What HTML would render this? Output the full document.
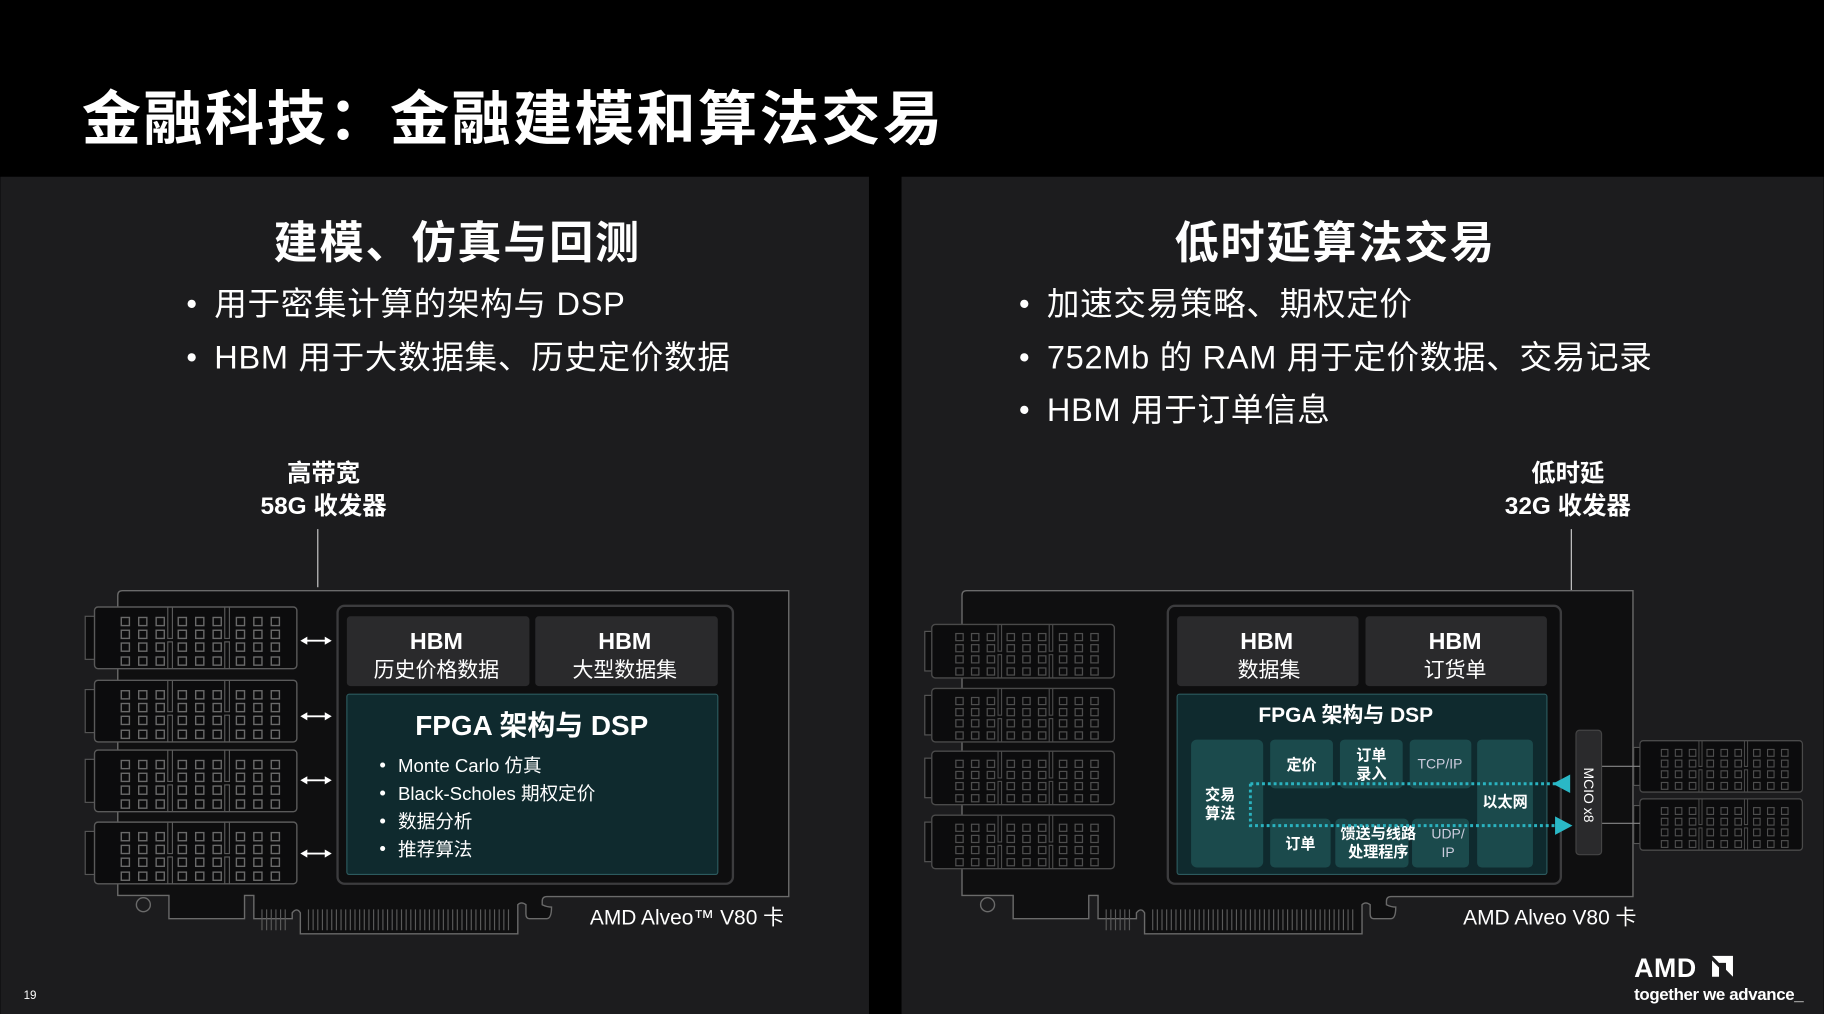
<!DOCTYPE html>
<html><head><meta charset="utf-8"><style>
html,body{margin:0;padding:0;background:#000;}
svg{display:block;}
text{font-family:"Liberation Sans","Noto Sans CJK SC",sans-serif;fill:#fff;}
</style></head><body>
<svg width="1824" height="1014" viewBox="0 0 1568 872" xmlns="http://www.w3.org/2000/svg">
<defs>
<g id="sq"><rect x="0" y="0" width="7" height="7" fill="none" stroke="#6a6a6a" stroke-width="1.2"/></g>
<g id="grp">
<use href="#sq" x="0" y="0"/><use href="#sq" x="15" y="0"/><use href="#sq" x="30" y="0"/>
<use href="#sq" x="0" y="11"/><use href="#sq" x="15" y="11"/><use href="#sq" x="30" y="11"/>
<use href="#sq" x="0" y="22"/><use href="#sq" x="15" y="22"/><use href="#sq" x="30" y="22"/>
<use href="#sq" x="0" y="34"/><use href="#sq" x="15" y="34"/><use href="#sq" x="30" y="34"/>
</g>
<g id="conn">
<rect x="-8" y="8" width="9" height="37" fill="#0c0c0d" stroke="#555" stroke-width="1"/>
<rect x="0" y="0" width="174" height="53" rx="3" fill="#0c0c0d" stroke="#5a5a5a" stroke-width="1.2"/>
<use href="#grp" x="23" y="9"/><use href="#grp" x="72" y="9"/><use href="#grp" x="122" y="9"/>
<path d="M63 0 V27 H67 V0 M63 53 V30 H67 V53 M112 0 V27 H116 V0 M112 53 V30 H116 V53" fill="none" stroke="#5a5a5a" stroke-width="1"/>
</g>
<g id="connS">
<rect x="-6" y="6" width="7" height="34" fill="#0c0c0d" stroke="#555" stroke-width="1"/>
<rect x="0" y="0" width="157" height="46" rx="3" fill="#0c0c0d" stroke="#4a4a4a" stroke-width="1.2"/>
<g transform="scale(0.9 0.87)"><use href="#grp" x="23" y="9" opacity="0.7"/><use href="#grp" x="72" y="9" opacity="0.7"/><use href="#grp" x="122" y="9" opacity="0.7"/></g>
<path d="M57 0 V23 H60 V0 M57 46 V26 H60 V46 M101 0 V23 H104 V0 M101 46 V26 H104 V46" fill="none" stroke="#4a4a4a" stroke-width="1"/>
</g>
<g id="dbl"><path d="M3 0 H24" stroke="#fff" stroke-width="1.6"/><path d="M0 0 L6 -3.5 V3.5 Z M27 0 L21 -3.5 V3.5 Z" fill="#fff"/></g>
<g id="fing" stroke="#5a5a5a" stroke-width="1">
<path d="M225 782 V800 M229 782 V800 M233 782 V800 M237 782 V800 M241 782 V800 M245 782 V800"/>
<path d="M265 782 V800 M269 782 V800 M273 782 V800 M277 782 V800 M281 782 V800 M285 782 V800 M289 782 V800 M293 782 V800 M297 782 V800 M301 782 V800 M305 782 V800 M309 782 V800 M313 782 V800 M317 782 V800 M321 782 V800 M325 782 V800 M329 782 V800 M333 782 V800 M337 782 V800 M341 782 V800 M345 782 V800 M349 782 V800 M353 782 V800 M357 782 V800 M361 782 V800 M365 782 V800 M369 782 V800 M373 782 V800 M377 782 V800 M381 782 V800 M385 782 V800 M389 782 V800 M393 782 V800 M397 782 V800 M401 782 V800 M405 782 V800 M409 782 V800 M413 782 V800 M417 782 V800 M421 782 V800 M425 782 V800 M429 782 V800 M433 782 V800 M437 782 V800"/>
</g>
</defs>
<rect width="1568" height="872" fill="#000"/>
<rect x="0" y="152" width="747" height="720" fill="#1c1c1e"/>
<rect x="775" y="152" width="793" height="720" fill="#1c1c1e"/>
<text x="70" y="120" font-size="51" font-weight="bold" letter-spacing="2">金融科技：金融建模和算法交易</text>

<!-- LEFT -->
<text x="393" y="222" font-size="38" font-weight="bold" text-anchor="middle" letter-spacing="1.5">建模、仿真与回测</text>
<g font-size="28" letter-spacing="0.6">
<text x="160" y="270" font-size="26">•</text><text x="184" y="271">用于密集计算的架构与 DSP</text>
<text x="160" y="316" font-size="26">•</text><text x="184" y="317">HBM 用于大数据集、历史定价数据</text>
</g>
<text x="278" y="414" font-size="21" font-weight="bold" text-anchor="middle">高带宽</text>
<text x="278" y="442" font-size="21" font-weight="bold" text-anchor="middle">58G 收发器</text>
<line x1="273" y1="455" x2="273" y2="505" stroke="#ccc" stroke-width="1"/>
<path d="M101 520 V512 Q101 508 105 508 H678 V771 H470 Q466 771 466 775 V778 Q470 780 474 780 Q474 790 470 790 H455 Q452 790 452 786 V778 Q448 775 445 778 V803 H258 V785 Q255 780 251 785 V790 H218 V770 H210 V790 H145 V770 H101 Z" fill="#0f0f10" stroke="#6a6a6a" stroke-width="1.2"/>
<circle cx="123" cy="778" r="6" fill="none" stroke="#6a6a6a" stroke-width="1.2"/>
<use href="#fing"/>
<use href="#conn" x="81" y="522"/><use href="#conn" x="81" y="585"/><use href="#conn" x="81" y="645"/><use href="#conn" x="81" y="707"/>
<use href="#dbl" x="258" y="551"/><use href="#dbl" x="258" y="616"/><use href="#dbl" x="258" y="671"/><use href="#dbl" x="258" y="734"/>
<rect x="290" y="521" width="340" height="239" rx="6" fill="#0e0e0f" stroke="#3c3c3e" stroke-width="2"/>
<rect x="298" y="530" width="157" height="60" rx="3" fill="#2a2a2c"/>
<rect x="460" y="530" width="157" height="60" rx="3" fill="#2a2a2c"/>
<text x="375" y="558" font-size="20" font-weight="bold" text-anchor="middle">HBM</text>
<text x="375" y="582" font-size="18" text-anchor="middle">历史价格数据</text>
<text x="537" y="558" font-size="20" font-weight="bold" text-anchor="middle">HBM</text>
<text x="537" y="582" font-size="18" text-anchor="middle">大型数据集</text>
<rect x="298" y="597" width="319" height="155" rx="2" fill="#0f2a2e" stroke="#2c5a5e" stroke-width="1"/>
<text x="457" y="632" font-size="24" font-weight="bold" text-anchor="middle">FPGA 架构与 DSP</text>
<g font-size="16"><text x="326" y="663">•</text><text x="342" y="664">Monte Carlo 仿真</text>
<text x="326" y="687">•</text><text x="342" y="688">Black-Scholes 期权定价</text>
<text x="326" y="711">•</text><text x="342" y="712">数据分析</text>
<text x="326" y="735">•</text><text x="342" y="736">推荐算法</text></g>
<text x="507" y="795" font-size="18">AMD Alveo™ V80 卡</text>

<!-- RIGHT -->
<text x="1148" y="222" font-size="38" font-weight="bold" text-anchor="middle" letter-spacing="1.5">低时延算法交易</text>
<g font-size="28" letter-spacing="0.6">
<text x="876" y="270" font-size="26">•</text><text x="900" y="271">加速交易策略、期权定价</text>
<text x="876" y="316" font-size="26">•</text><text x="900" y="317">752Mb 的 RAM 用于定价数据、交易记录</text>
<text x="876" y="361" font-size="26">•</text><text x="900" y="362">HBM 用于订单信息</text>
</g>
<text x="1348" y="414" font-size="21" font-weight="bold" text-anchor="middle">低时延</text>
<text x="1348" y="442" font-size="21" font-weight="bold" text-anchor="middle">32G 收发器</text>
<line x1="1351" y1="455" x2="1351" y2="628" stroke="#ccc" stroke-width="1"/>
<path d="M827 520 V512 Q827 508 831 508 H1404 V771 H1196 Q1192 771 1192 775 V778 Q1196 780 1200 780 Q1200 790 1196 790 H1181 Q1178 790 1178 786 V778 Q1174 775 1171 778 V803 H984 V785 Q981 780 977 785 V790 H944 V770 H936 V790 H871 V770 H827 Z" fill="#0f0f10" stroke="#6a6a6a" stroke-width="1.2"/>
<circle cx="849" cy="778" r="6" fill="none" stroke="#6a6a6a" stroke-width="1.2"/>
<use href="#fing" x="726"/>
<use href="#connS" x="801" y="537"/><use href="#connS" x="801" y="592"/><use href="#connS" x="801" y="646"/><use href="#connS" x="801" y="701"/>
<g transform="translate(1410 637) scale(0.89 0.96)"><use href="#connS"/></g>
<g transform="translate(1410 687) scale(0.89 0.96)"><use href="#connS"/></g>
<line x1="1377" y1="659" x2="1410" y2="659" stroke="#888"/><line x1="1377" y1="708" x2="1410" y2="708" stroke="#888"/>
<rect x="1004" y="521" width="338" height="239" rx="6" fill="#0e0e0f" stroke="#3c3c3e" stroke-width="2"/>
<rect x="1012" y="530" width="156" height="60" rx="3" fill="#2a2a2c"/>
<rect x="1174" y="530" width="156" height="60" rx="3" fill="#2a2a2c"/>
<text x="1089" y="558" font-size="20" font-weight="bold" text-anchor="middle">HBM</text>
<text x="1091" y="582" font-size="18" text-anchor="middle">数据集</text>
<text x="1251" y="558" font-size="20" font-weight="bold" text-anchor="middle">HBM</text>
<text x="1251" y="582" font-size="18" text-anchor="middle">订货单</text>
<rect x="1012" y="597" width="318" height="155" rx="2" fill="#0f2a2e" stroke="#2c5a5e" stroke-width="1"/>
<text x="1157" y="621" font-size="18" font-weight="bold" text-anchor="middle">FPGA 架构与 DSP</text>
<g fill="#1b4a4c">
<rect x="1024" y="636" width="62" height="110" rx="5"/>
<rect x="1092" y="636" width="54" height="42" rx="4"/>
<rect x="1152" y="636" width="54" height="42" rx="4"/>
<rect x="1212" y="636" width="53" height="42" rx="4"/>
<rect x="1270" y="636" width="48" height="110" rx="4"/>
<rect x="1092" y="704" width="52" height="42" rx="4"/>
<rect x="1148" y="704" width="63" height="42" rx="4"/>
<rect x="1214" y="704" width="49" height="42" rx="4"/>
</g>
<g font-size="13" font-weight="bold" text-anchor="middle">
<text x="1049" y="688">交易</text><text x="1049" y="704">算法</text>
<text x="1119" y="662">定价</text>
<text x="1179" y="654">订单</text><text x="1179" y="670">录入</text>
<text x="1294" y="694">以太网</text>
<text x="1118" y="730">订单</text>
<text x="1185" y="721">馈送与线路</text><text x="1185" y="737">处理程序</text>
</g>
<g font-size="12" text-anchor="middle">
<text x="1238" y="661" style="fill:#ccd">TCP/IP</text>
<text x="1245" y="721" style="fill:#ccd">UDP/</text><text x="1245" y="737" style="fill:#ccd">IP</text>
</g>
<path d="M1075 674 H1340 M1075 674 V710 H1340" fill="none" stroke="#2ab3c0" stroke-width="2.5" stroke-dasharray="2.5 2.5"/>
<path d="M1335 674 L1350 666 V682 Z" fill="#2ab8c6"/>
<path d="M1352 710 L1337 702 V718 Z" fill="#2ab8c6"/>
<rect x="1355" y="628" width="22" height="107" rx="3" fill="#2a2a2c" stroke="#444"/>
<text x="0" y="0" font-size="12" transform="translate(1362 660) rotate(90)">MCIO x8</text>
<text x="1258" y="795" font-size="18">AMD Alveo V80 卡</text>

<text x="20" y="859" font-size="10">19</text>
<text x="1405" y="840" font-size="23" font-weight="bold" letter-spacing="0.5">AMD</text>
<path d="M1472 822 H1490 V840 L1484 834 V828 H1478 Z M1472 826 L1478 832 V840 H1472 Z" fill="#fff"/>
<text x="1405" y="860" font-size="14.5" font-weight="bold" letter-spacing="-0.3">together we advance_</text>
</svg>
</body></html>
